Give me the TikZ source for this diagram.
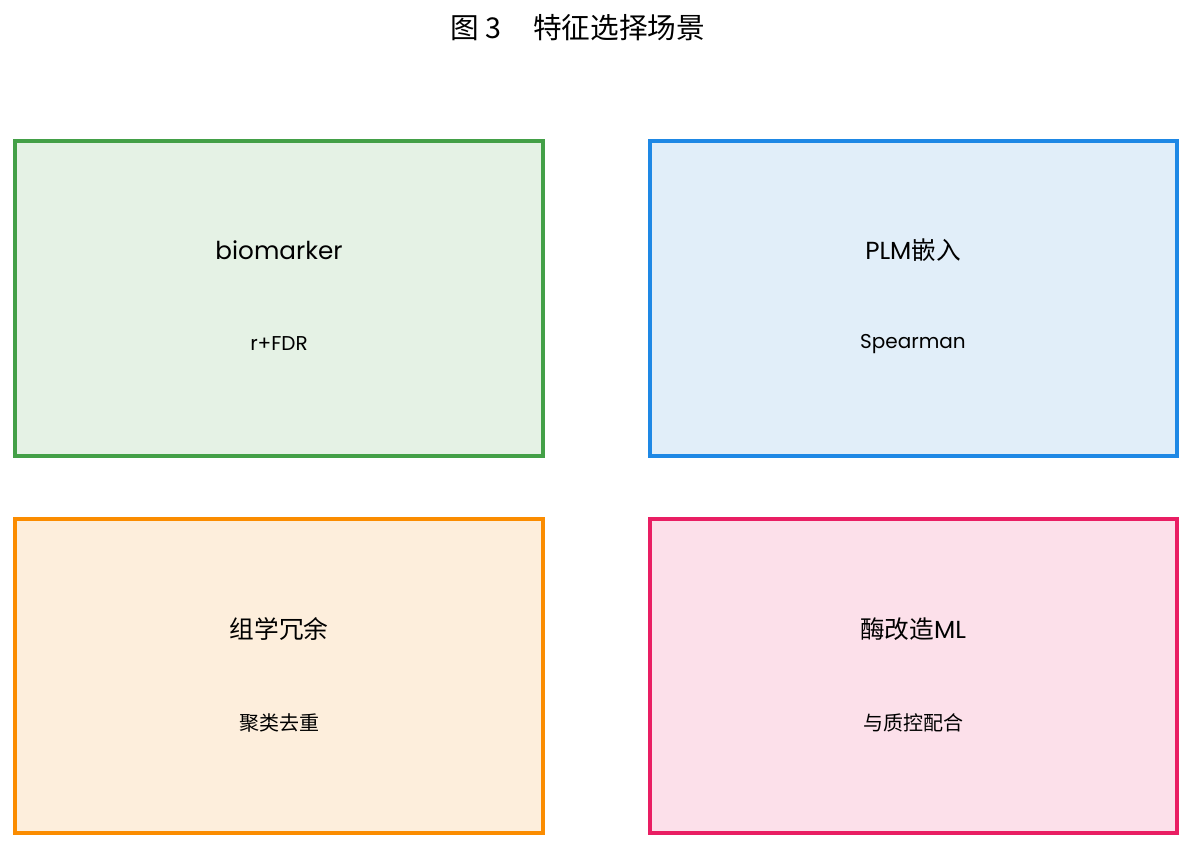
\documentclass[tikz,border=0pt]{standalone}
\usepackage{fontspec}
\setmainfont{Poppins}
\newfontfamily\cjk{Noto Sans CJK SC}
\definecolor{gB}{HTML}{43A047}\definecolor{gF}{HTML}{E5F2E5}
\definecolor{bB}{HTML}{1E88E5}\definecolor{bF}{HTML}{E1EEF9}
\definecolor{oB}{HTML}{FB8C00}\definecolor{oF}{HTML}{FDEEDC}
\definecolor{pB}{HTML}{E91E63}\definecolor{pF}{HTML}{FCE0EA}
\begin{document}
\begin{tikzpicture}[x=0.75pt,y=-0.75pt,
  panel/.style={line width=3pt},
  head/.style={font=\fontsize{18.5}{22}\selectfont, inner sep=0pt},
  sub/.style={font=\fontsize{15}{18}\selectfont, inner sep=0pt}]
\useasboundingbox (0,0) rectangle (1192,849);
\node[font=\cjk\fontsize{21.5}{26}\selectfont, inner sep=0pt] (title) at (578,28) {图 3\hspace{1.1em}特征选择场景};
\draw[panel, draw=gB, fill=gF] (15,141) rectangle (543,456);
\draw[panel, draw=bB, fill=bF] (650,141) rectangle (1177,456);
\draw[panel, draw=oB, fill=oF] (15,519) rectangle (543,833);
\draw[panel, draw=pB, fill=pF] (650,519) rectangle (1177,833);
\node[head] (h1) at (279,250) {biomarker};
\node[sub] (s1) at (279,344) {r+FDR};
\node[head] (h2) at (913,250) {PLM{\cjk 嵌入}};
\node[sub] (s2) at (913,344) {Spearman};
\node[head, font=\cjk\fontsize{18.5}{22}\selectfont] (h3) at (279,629) {组学冗余};
\node[sub, font=\cjk\fontsize{15}{18}\selectfont] (s3) at (279,723) {聚类去重};
\node[head] (h4) at (913,629) {{\cjk 酶改造}ML};
\node[sub, font=\cjk\fontsize{15}{18}\selectfont] (s4) at (913,723) {与质控配合};
\end{tikzpicture}
\end{document}
